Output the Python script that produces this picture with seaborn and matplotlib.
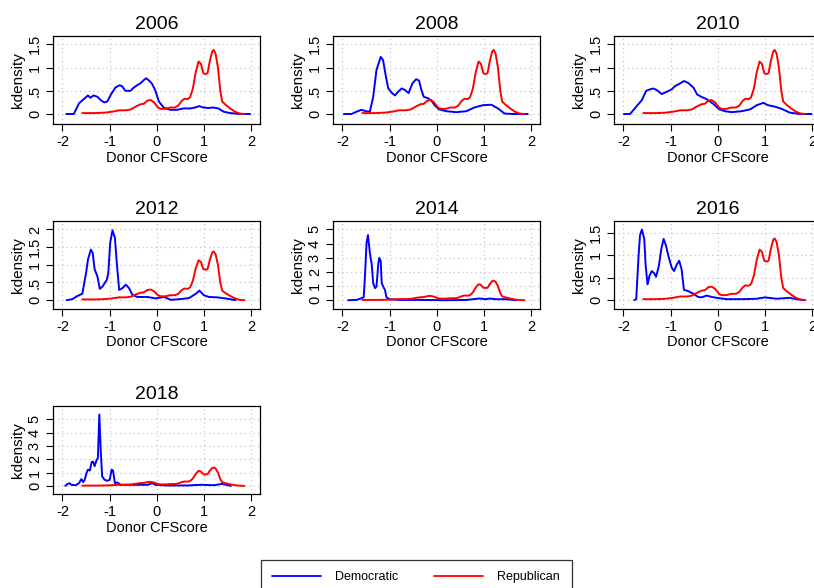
import matplotlib
matplotlib.use("Agg")
import matplotlib.pyplot as plt
from matplotlib.lines import Line2D
import pandas as pd
import seaborn as sns

# ---------------- data ----------------
years = ["2006", "2008", "2010", "2012", "2014", "2016", "2018"]
parties = ["Democratic", "Republican"]
x_ticks = [-2, -1, 0, 1, 2]
x_tick_labels = ["-2", "-1", "0", "1", "2"]

# Republican density (identical in every panel)
rep_x = [-1.58, -1.30, -1.10, -0.95, -0.80, -0.65, -0.55, -0.45, -0.35, -0.28, -0.20, -0.13,
         -0.06, 0.02, 0.08, 0.18, 0.28, 0.38, 0.45, 0.52, 0.58, 0.65, 0.70, 0.76, 0.82, 0.88,
         0.93, 0.98, 1.03, 1.07, 1.12, 1.17, 1.20, 1.24, 1.29, 1.34, 1.38, 1.45, 1.55, 1.65,
         1.75, 1.85]
rep_y = [0.02, 0.02, 0.03, 0.05, 0.08, 0.08, 0.10, 0.16, 0.21, 0.22, 0.29, 0.30,
         0.25, 0.14, 0.11, 0.11, 0.14, 0.14, 0.18, 0.28, 0.33, 0.32, 0.36, 0.55, 0.90, 1.13,
         1.08, 0.88, 0.86, 0.88, 1.15, 1.35, 1.38, 1.30, 1.00, 0.50, 0.27, 0.20, 0.12, 0.05,
         0.01, 0.00]

dem_x_2006 = [-1.92, -1.76, -1.65, -1.55, -1.46, -1.41, -1.34, -1.26, -1.19, -1.12, -1.05, -0.98,
              -0.88, -0.79, -0.74, -0.67, -0.56, -0.49, -0.42, -0.35, -0.28, -0.23, -0.18, -0.11,
              -0.04, 0.04, 0.14, 0.28, 0.42, 0.56, 0.70, 0.81, 0.89, 0.98, 1.09, 1.19, 1.30,
              1.41, 1.55, 1.76, 1.97]
dem_y_2006 = [0.00, 0.00, 0.23, 0.32, 0.40, 0.35, 0.40, 0.37, 0.30, 0.25, 0.27, 0.41,
              0.57, 0.62, 0.60, 0.50, 0.50, 0.57, 0.62, 0.66, 0.73, 0.77, 0.73, 0.66,
              0.52, 0.27, 0.14, 0.09, 0.09, 0.12, 0.12, 0.14, 0.17, 0.14, 0.13, 0.14, 0.12,
              0.05, 0.02, 0.00, 0.00]

dem_x_2008 = [-1.97, -1.81, -1.70, -1.60, -1.50, -1.42, -1.35, -1.28, -1.19, -1.14, -1.08, -1.03,
              -0.96, -0.89, -0.82, -0.75, -0.68, -0.60, -0.52, -0.44, -0.38, -0.33, -0.28, -0.19,
              -0.12, -0.05, 0.04, 0.20, 0.41, 0.62, 0.79, 0.97, 1.15, 1.29, 1.43, 1.60, 1.92]
dem_y_2008 = [0.00, 0.00, 0.05, 0.09, 0.06, 0.05, 0.37, 0.95, 1.23, 1.16, 0.80, 0.55,
              0.46, 0.40, 0.48, 0.55, 0.52, 0.45, 0.66, 0.75, 0.72, 0.52, 0.37, 0.34,
              0.29, 0.19, 0.10, 0.06, 0.04, 0.06, 0.14, 0.19, 0.20, 0.12, 0.01, 0.00, 0.00]

dem_x_2010 = [-1.99, -1.86, -1.72, -1.61, -1.52, -1.44, -1.37, -1.30, -1.19, -1.08, -0.98, -0.91,
              -0.80, -0.72, -0.63, -0.52, -0.44, -0.35, -0.24, -0.10, 0.03, 0.15, 0.29, 0.50,
              0.68, 0.82, 0.96, 1.06, 1.20, 1.35, 1.52, 1.73, 1.98]
dem_y_2010 = [0.00, 0.00, 0.17, 0.30, 0.50, 0.53, 0.55, 0.52, 0.43, 0.48, 0.53, 0.60,
              0.66, 0.71, 0.67, 0.57, 0.42, 0.37, 0.32, 0.22, 0.10, 0.06, 0.04, 0.06,
              0.10, 0.19, 0.24, 0.19, 0.16, 0.11, 0.03, 0.00, 0.00]

dem_x_2012 = [-1.91, -1.79, -1.68, -1.58, -1.50, -1.46, -1.40, -1.36, -1.32, -1.26, -1.21, -1.15,
              -1.06, -1.03, -0.99, -0.94, -0.89, -0.85, -0.80, -0.73, -0.66, -0.59, -0.52, -0.41,
              -0.20, -0.03, 0.15, 0.29, 0.50, 0.68, 0.82, 0.90, 0.99, 1.10, 1.27, 1.45, 1.66]
dem_y_2012 = [0.00, 0.03, 0.12, 0.18, 0.77, 1.15, 1.43, 1.34, 0.88, 0.67, 0.32, 0.39,
              0.58, 0.77, 1.62, 1.98, 1.76, 1.05, 0.29, 0.34, 0.44, 0.34, 0.15, 0.09,
              0.09, 0.05, 0.09, 0.01, 0.03, 0.06, 0.18, 0.27, 0.14, 0.09, 0.08, 0.05, 0.00]

dem_x_2014 = [-1.88, -1.70, -1.60, -1.55, -1.52, -1.49, -1.46, -1.42, -1.38, -1.35, -1.31, -1.28,
              -1.24, -1.22, -1.19, -1.17, -1.14, -1.10, -1.07, -1.00, -0.79, -0.37, 0.20, 0.62,
              0.90, 1.04, 1.11, 1.25, 1.46, 1.67]
dem_y_2014 = [0.00, 0.02, 0.14, 0.21, 1.92, 4.05, 4.60, 3.34, 2.51, 1.21, 0.85, 0.97,
              2.63, 2.99, 2.75, 1.21, 0.97, 0.73, 0.21, 0.07, 0.02, 0.02, 0.00, 0.02,
              0.12, 0.07, 0.12, 0.07, 0.07, 0.00]

dem_x_2016 = [-1.77, -1.73, -1.68, -1.65, -1.61, -1.56, -1.53, -1.49, -1.45, -1.40, -1.35, -1.31,
              -1.25, -1.20, -1.15, -1.10, -1.05, -0.98, -0.93, -0.87, -0.82, -0.77, -0.72, -0.63,
              -0.52, -0.42, -0.35, -0.24, -0.13, -0.03, 0.18, 0.54, 0.82, 0.99, 1.24, 1.52,
              1.66, 1.80]
dem_y_2016 = [0.00, 0.02, 0.99, 1.45, 1.58, 1.37, 0.77, 0.35, 0.54, 0.65, 0.60, 0.52,
              0.77, 1.14, 1.37, 1.22, 0.99, 0.73, 0.65, 0.80, 0.88, 0.69, 0.23, 0.20,
              0.14, 0.07, 0.06, 0.10, 0.07, 0.05, 0.02, 0.02, 0.03, 0.06, 0.03, 0.05,
              0.02, 0.00]

dem_x_2018 = [-1.94, -1.90, -1.85, -1.81, -1.72, -1.65, -1.60, -1.56, -1.53, -1.49, -1.46, -1.42,
              -1.38, -1.35, -1.32, -1.28, -1.25, -1.22, -1.19, -1.16, -1.11, -1.05, -1.00, -0.96,
              -0.93, -0.89, -0.84, -0.77, -0.49, -0.20, -0.10, -0.03, 0.22, 0.64, 0.93, 1.21,
              1.38, 1.56]
dem_y_2018 = [0.00, 0.13, 0.20, 0.08, 0.05, 0.20, 0.51, 0.28, 0.46, 0.97, 1.22, 1.15,
              1.81, 1.81, 1.48, 1.91, 2.12, 5.36, 2.63, 0.71, 0.46, 0.38, 0.46, 1.22,
              1.15, 0.20, 0.26, 0.08, 0.08, 0.08, 0.20, 0.08, 0.03, 0.03, 0.08, 0.05,
              0.15, 0.00]

y_ticks_a = [0, 0.5, 1, 1.5]
y_tick_labels_a = ["0", ".5", "1", "1.5"]
y_ticks_b = [0, 0.5, 1, 1.5, 2]
y_tick_labels_b = ["0", ".5", "1", "1.5", "2"]
y_ticks_c = [0, 1, 2, 3, 4, 5]
y_tick_labels_c = ["0", "1", "2", "3", "4", "5"]

dem_x = [dem_x_2006, dem_x_2008, dem_x_2010, dem_x_2012, dem_x_2014, dem_x_2016, dem_x_2018]
dem_y = [dem_y_2006, dem_y_2008, dem_y_2010, dem_y_2012, dem_y_2014, dem_y_2016, dem_y_2018]

# ---------------- layout / style ----------------
W, H = 814, 588
col_left = [53, 333, 614]
row_bottom = [124, 309, 494]
ax_w, ax_h = 207, 88
ylims = [(-0.215, 1.68), (-0.215, 1.68), (-0.215, 1.68), (-0.25, 2.24),
         (-0.62, 5.59), (-0.2, 1.77), (-0.61, 6.0)]
yticks = [(y_ticks_a, y_tick_labels_a)] * 3 + [(y_ticks_b, y_tick_labels_b),
          (y_ticks_c, y_tick_labels_c), (y_ticks_a, y_tick_labels_a),
          (y_ticks_c, y_tick_labels_c)]
palette = {"Democratic": "#0000ff", "Republican": "#ff0000"}

sns.set_theme(style="white")
plt.rcParams["font.family"] = ["Liberation Sans", "DejaVu Sans"]

fig = plt.figure(figsize=(W / 100, H / 100), dpi=100)
fig.patch.set_facecolor("white")

for i, year in enumerate(years):
    r, c = divmod(i, 3)
    ax = fig.add_axes([col_left[c] / W, 1 - row_bottom[r] / H, ax_w / W, ax_h / H])
    df = pd.concat([
        pd.DataFrame({"x": dem_x[i], "y": dem_y[i], "party": "Democratic"}),
        pd.DataFrame({"x": rep_x, "y": rep_y, "party": "Republican"}),
    ], ignore_index=True)
    sns.lineplot(data=df, x="x", y="y", hue="party", hue_order=parties, palette=palette,
                 estimator=None, sort=False, linewidth=1.4, legend=False, ax=ax)
    ax.set_xlim(-2.2, 2.18)
    ax.set_ylim(*ylims[i])
    ax.set_xticks(x_ticks)
    ax.set_xticklabels(x_tick_labels)
    yt, ytl = yticks[i]
    ax.set_yticks(yt)
    ax.set_yticklabels(ytl, rotation=90, va="center")
    ax.grid(True, linestyle=(0, (1, 3)), color="#bdbdbd", linewidth=0.8)
    ax.set_axisbelow(True)
    ax.tick_params(direction="out", length=5, width=0.8, color="black", labelsize=10.5,
                   pad=3, bottom=True, left=True, labelcolor="black")
    for s in ax.spines.values():
        s.set_color("black")
        s.set_linewidth(0.9)
    ax.set_xlabel("Donor CFScore", fontsize=10.5, labelpad=1, color="black")
    ax.set_ylabel("kdensity", fontsize=11, labelpad=2, color="black")
    ax.set_title(year, fontsize=14, pad=5, color="black")

handles = [Line2D([0], [0], color=palette[p], lw=1.3) for p in parties]
leg = fig.legend(handles, parties, loc="upper center", bbox_to_anchor=(416 / W, 1 - 560 / H),
                 ncol=2, frameon=True, fancybox=False, edgecolor="black", fontsize=9,
                 handlelength=3.9, columnspacing=2.8, handletextpad=1.2, borderpad=0.9,
                 borderaxespad=0)
leg.get_frame().set_linewidth(0.9)
for t in leg.get_texts():
    t.set_color("black")

fig.savefig("out.png", dpi=100, facecolor="white")
